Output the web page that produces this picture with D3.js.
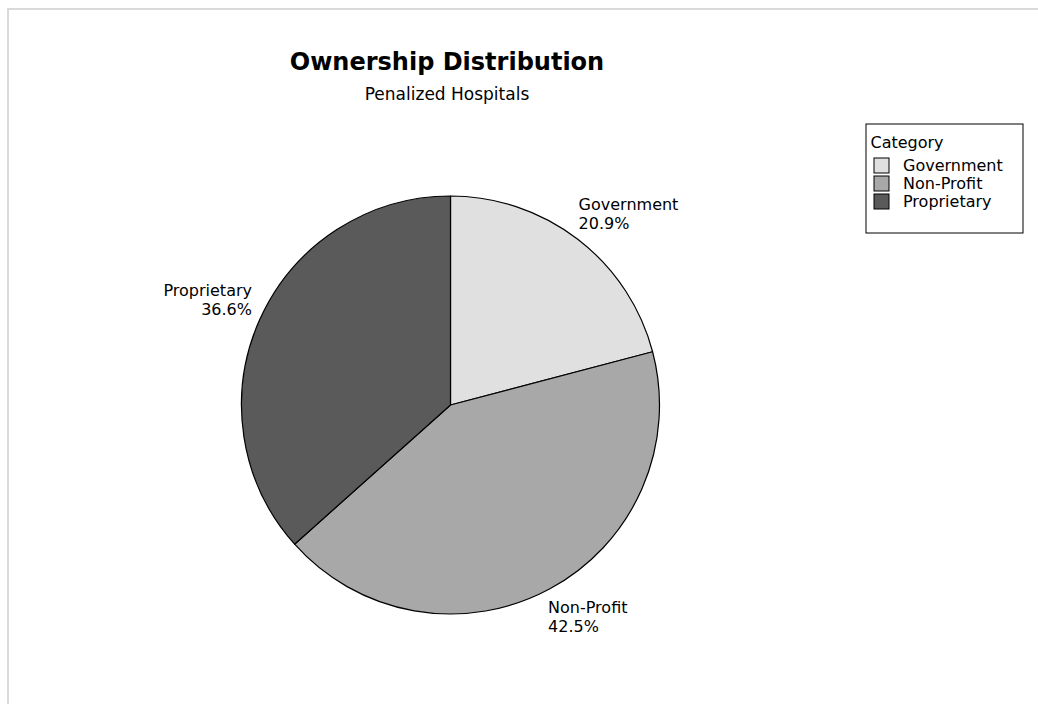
<!DOCTYPE html>
<html>
<head>
<meta charset="utf-8">
<script src="https://cdn.jsdelivr.net/npm/d3@7"></script>
<style>
  html, body { margin: 0; padding: 0; background: #ffffff; }
  svg { display: block; }
  text { font-family: "DejaVu Sans", Verdana, sans-serif; fill: #000; }
</style>
</head>
<body>
<svg id="chart" width="1038" height="704"></svg>
<script>
// Ownership categories of penalized hospitals, in pie order (clockwise from 12 o'clock)
const categories = ["Government", "Non-Profit", "Proprietary"];
const shares = [20.9, 42.5, 36.6];
const fills = ["#e0e0e0", "#a8a8a8", "#5a5a5a"];

const titleText = "Ownership Distribution";
const subtitleText = "Penalized Hospitals";
const legendTitle = "Category";

const W = 1038, H = 704;
const svg = d3.select("#chart");

// Outer frame of the graph window
svg.append("rect")
  .attr("x", 8).attr("y", 9)
  .attr("width", W + 20).attr("height", H + 20)
  .attr("fill", "none")
  .attr("stroke", "#d9d9d9")
  .attr("stroke-width", 2);

// Titles
svg.append("text")
  .attr("x", 447).attr("y", 70)
  .attr("text-anchor", "middle")
  .attr("font-weight", "bold")
  .attr("font-size", "24px")
  .text(titleText);

svg.append("text")
  .attr("x", 447).attr("y", 100)
  .attr("text-anchor", "middle")
  .attr("font-size", "17px")
  .text(subtitleText);

// Pie
const cx = 450.5, cy = 405, R = 209;
const color = d3.scaleOrdinal().domain(categories).range(fills);
const data = categories.map((c, i) => ({ category: c, value: shares[i] }));

const pie = d3.pie().value(d => d.value).sort(null);
const arc = d3.arc().innerRadius(0).outerRadius(R);
const labelArc = d3.arc().innerRadius(R + 14).outerRadius(R + 14);

const g = svg.append("g").attr("transform", `translate(${cx},${cy})`);
const arcs = pie(data);

g.selectAll("path.slice")
  .data(arcs)
  .join("path")
  .attr("class", "slice")
  .attr("d", arc)
  .attr("fill", d => color(d.data.category))
  .attr("stroke", "#000")
  .attr("stroke-width", 1.2)
  .attr("stroke-linejoin", "round");

// Slice labels: name and percentage, anchored at the corner nearest the pie
const lineH = 19;
g.selectAll("text.slice-label")
  .data(arcs)
  .join("text")
  .attr("class", "slice-label")
  .attr("font-size", "16px")
  .each(function(d) {
    const [lx, ly] = labelArc.centroid(d);
    const right = lx > 0;
    const below = ly > 0;
    const t = d3.select(this)
      .attr("text-anchor", right ? "start" : "end");
    const x = lx + (right ? -8 : 5);
    const y0 = below ? ly + 12 : ly - lineH + 1;
    t.append("tspan").attr("x", x).attr("y", y0).text(d.data.category);
    t.append("tspan").attr("x", x).attr("y", y0 + lineH)
      .text(d3.format(".1f")(d.data.value) + "%");
  });

// Legend
const lg = svg.append("g").attr("transform", "translate(866,124)");
lg.append("rect")
  .attr("x", 0).attr("y", 0)
  .attr("width", 157).attr("height", 109)
  .attr("fill", "#fff")
  .attr("stroke", "#000")
  .attr("stroke-width", 1);

lg.append("text")
  .attr("x", 41).attr("y", 24)
  .attr("text-anchor", "middle")
  .attr("font-size", "16px")
  .text(legendTitle);

const rowY = d3.scalePoint().domain(categories).range([41, 77]);
const rows = lg.selectAll("g.row")
  .data(categories)
  .join("g")
  .attr("class", "row")
  .attr("transform", d => `translate(0,${rowY(d)})`);

rows.append("rect")
  .attr("x", 8).attr("y", -7)
  .attr("width", 15).attr("height", 15)
  .attr("fill", d => color(d))
  .attr("stroke", "#000")
  .attr("stroke-width", 1);

rows.append("text")
  .attr("x", 37).attr("y", 6)
  .attr("font-size", "16px")
  .text(d => d);
</script>
</body>
</html>
